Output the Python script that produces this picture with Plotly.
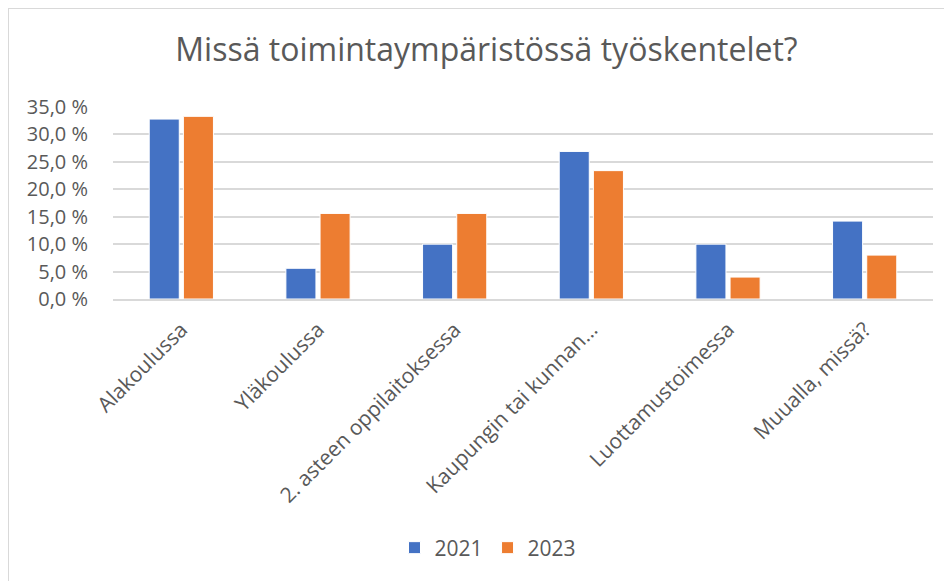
import plotly.graph_objects as go

categories = ["Alakoulussa", "Yläkoulussa", "2. asteen oppilaitoksessa",
              "Kaupungin tai kunnan…", "Luottamustoimessa", "Muualla, missä?"]
values_2021 = [32.8, 5.6, 10.0, 26.9, 10.0, 14.2]
values_2023 = [33.3, 15.6, 15.6, 23.4, 4.0, 8.0]
series_names = ["2021", "2023"]
y_ticks = [0, 5, 10, 15, 20, 25, 30, 35]
y_tick_labels = ["0,0 %", "5,0 %", "10,0 %", "15,0 %", "20,0 %", "25,0 %", "30,0 %", "35,0 %"]

FONT = "Open Sans"
GRAY = "#595959"

fig = go.Figure()
fig.add_trace(go.Bar(x=categories, y=values_2021, name=series_names[0],
                     marker=dict(color="#4472C4", line=dict(color="white", width=1))))
fig.add_trace(go.Bar(x=categories, y=values_2023, name=series_names[1],
                     marker=dict(color="#ED7D31", line=dict(color="white", width=1))))

# page body has an 8px margin; figure is drawn offset by 8px
OFF = 8
W, H = 944, 573
L, T = 113 - OFF, 107 - OFF
R = W - (933 - OFF)
B = H - (299 - OFF)
pw, ph = W - L - R, H - T - B

fig.update_layout(
    width=W, height=H,
    margin=dict(l=L, r=R, t=T, b=B),
    paper_bgcolor="white", plot_bgcolor="white",
    barmode="group", bargap=0.5, bargroupgap=0.12,
    font=dict(family=FONT, color=GRAY, size=18),
    title=dict(text="Missä toimintaympäristössä työskentelet?",
               font=dict(family=FONT, size=32, color=GRAY),
               x=(486.5 - OFF) / W, xanchor="center", y=1 - (50 - OFF) / H, yanchor="middle"),
    legend=dict(orientation="h", x=(488 - OFF - L) / pw, xanchor="center",
                y=-(548 - 299) / ph, yanchor="middle", xref="paper",
                font=dict(size=21, color=GRAY), itemwidth=30, traceorder="normal"),
    showlegend=True,
    xaxis=dict(tickangle=-45, showline=True, linecolor="#d9d9d9", linewidth=2,
               tickfont=dict(size=21, color=GRAY), ticklabelstandoff=8,
               showgrid=False),
    yaxis=dict(range=[0, 35], tickvals=y_ticks, ticktext=y_tick_labels,
               showgrid=True, gridcolor="#d9d9d9", gridwidth=2,
               zeroline=False, showline=False,
               tickfont=dict(size=20, color=GRAY), ticklabelstandoff=24),
    shapes=[dict(type="rect", xref="paper", yref="paper",
                 x0=(0 - L) / pw, x1=(W + 20 - L) / pw,
                 y0=-(H + 20 - (H - B)) / ph, y1=((H - B) - 0) / ph,
                 line=dict(color="#d9d9d9", width=2), layer="below")],
)

fig.write_html("out.html")
